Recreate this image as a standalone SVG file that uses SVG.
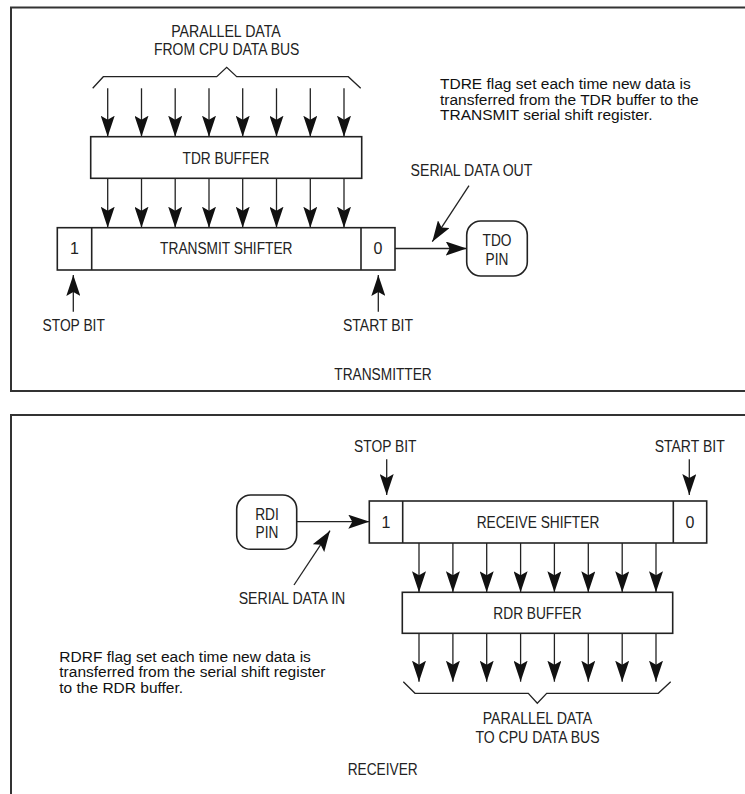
<svg xmlns="http://www.w3.org/2000/svg" width="745" height="794" viewBox="0 0 745 794">
<style>
.frame{fill:none;stroke:#333;stroke-width:2}
.box{fill:#fff;stroke:#222;stroke-width:1.6}
.ln{fill:none;stroke:#222;stroke-width:1.3}
.arr{fill:none;stroke:#222;stroke-width:1.3;marker-end:url(#ah)}
.lbl{font-family:"Liberation Sans Narrow","Liberation Sans",Arial,sans-serif;font-size:16px;fill:#222;text-anchor:middle}
.body{font-family:"Liberation Sans",Arial,sans-serif;font-size:15.5px;fill:#111}
</style>
<defs>
<marker id="ah" viewBox="0 0 21 14" refX="21" refY="7" markerWidth="21" markerHeight="14" markerUnits="userSpaceOnUse" orient="auto">
<path d="M0,0 L21,7 L0,14 L4,7 z" fill="#111"/>
</marker>
</defs>
<rect width="745" height="794" fill="#fff"/>
<g id="frames">
<path class="frame" d="M746,7.5 H11 V391 H746"/>
<path class="frame" d="M746,415 H11 V795"/>
</g>
<g id="connectors">
<path class="ln" d="M92.7,88.3 L103.3,76.7 H216.7 L226.7,67.3 L236.7,76.7 H348.3 L360.7,88.3"/>
<line class="arr" x1="107.7" y1="88.3" x2="107.7" y2="136.7"/>
<line class="arr" x1="141.5" y1="88.3" x2="141.5" y2="136.7"/>
<line class="arr" x1="175.2" y1="88.3" x2="175.2" y2="136.7"/>
<line class="arr" x1="209" y1="88.3" x2="209" y2="136.7"/>
<line class="arr" x1="242.7" y1="88.3" x2="242.7" y2="136.7"/>
<line class="arr" x1="276.5" y1="88.3" x2="276.5" y2="136.7"/>
<line class="arr" x1="310.3" y1="88.3" x2="310.3" y2="136.7"/>
<line class="arr" x1="344" y1="88.3" x2="344" y2="136.7"/>
<line class="arr" x1="107.7" y1="178.3" x2="107.7" y2="227.7"/>
<line class="arr" x1="141.5" y1="178.3" x2="141.5" y2="227.7"/>
<line class="arr" x1="175.2" y1="178.3" x2="175.2" y2="227.7"/>
<line class="arr" x1="209" y1="178.3" x2="209" y2="227.7"/>
<line class="arr" x1="242.7" y1="178.3" x2="242.7" y2="227.7"/>
<line class="arr" x1="276.5" y1="178.3" x2="276.5" y2="227.7"/>
<line class="arr" x1="310.3" y1="178.3" x2="310.3" y2="227.7"/>
<line class="arr" x1="344" y1="178.3" x2="344" y2="227.7"/>
<line class="arr" x1="73.3" y1="311.7" x2="73.3" y2="275"/>
<line class="arr" x1="378.3" y1="311.7" x2="378.3" y2="275"/>
<line class="arr" x1="395" y1="248.5" x2="466.7" y2="248.5"/>
<line class="arr" x1="469" y1="185.7" x2="432.3" y2="241.7"/>
<line class="arr" x1="386.7" y1="459.3" x2="386.7" y2="495"/>
<line class="arr" x1="689.3" y1="459.3" x2="689.3" y2="495"/>
<line class="arr" x1="296.7" y1="521.7" x2="369.3" y2="521.7"/>
<line class="arr" x1="294" y1="585" x2="330" y2="530.7"/>
<line class="arr" x1="419" y1="543" x2="419" y2="592.3"/>
<line class="arr" x1="452.9" y1="543" x2="452.9" y2="592.3"/>
<line class="arr" x1="486.7" y1="543" x2="486.7" y2="592.3"/>
<line class="arr" x1="520.6" y1="543" x2="520.6" y2="592.3"/>
<line class="arr" x1="554.4" y1="543" x2="554.4" y2="592.3"/>
<line class="arr" x1="588.3" y1="543" x2="588.3" y2="592.3"/>
<line class="arr" x1="622.2" y1="543" x2="622.2" y2="592.3"/>
<line class="arr" x1="656" y1="543" x2="656" y2="592.3"/>
<line class="arr" x1="419" y1="633.3" x2="419" y2="681.7"/>
<line class="arr" x1="452.9" y1="633.3" x2="452.9" y2="681.7"/>
<line class="arr" x1="486.7" y1="633.3" x2="486.7" y2="681.7"/>
<line class="arr" x1="520.6" y1="633.3" x2="520.6" y2="681.7"/>
<line class="arr" x1="554.4" y1="633.3" x2="554.4" y2="681.7"/>
<line class="arr" x1="588.3" y1="633.3" x2="588.3" y2="681.7"/>
<line class="arr" x1="622.2" y1="633.3" x2="622.2" y2="681.7"/>
<line class="arr" x1="656" y1="633.3" x2="656" y2="681.7"/>
<path class="ln" d="M403.3,681.7 L415,693.3 H528.3 L537.3,703.3 L546.7,693.3 H658.3 L670.7,681.7"/>
</g>
<g id="tdr-buffer">
<rect class="box" x="90.7" y="136.7" width="271" height="41.6"/>
<text class="lbl" x="226" y="163.5" textLength="86.8" lengthAdjust="spacingAndGlyphs">TDR BUFFER</text>
</g>
<g id="transmit-shifter">
<rect class="box" x="57.3" y="227.7" width="337.7" height="42.3"/>
<line class="box" x1="91.7" y1="227.7" x2="91.7" y2="270"/>
<line class="box" x1="361" y1="227.7" x2="361" y2="270"/>
<text class="lbl" x="74.5" y="254">1</text>
<text class="lbl" x="226.3" y="254" textLength="132.4" lengthAdjust="spacingAndGlyphs">TRANSMIT SHIFTER</text>
<text class="lbl" x="378" y="254">0</text>
</g>
<g id="tdo-pin">
<rect class="box" x="466.7" y="221" width="60.6" height="55" rx="14"/>
<text class="lbl" x="497" y="246" textLength="28.9" lengthAdjust="spacingAndGlyphs">TDO</text>
<text class="lbl" x="497" y="265" textLength="22.8" lengthAdjust="spacingAndGlyphs">PIN</text>
</g>
<g id="tx-labels">
<text class="lbl" x="226" y="37.3" textLength="109.6" lengthAdjust="spacingAndGlyphs">PARALLEL DATA</text>
<text class="lbl" x="226.7" y="55.3" textLength="145.4" lengthAdjust="spacingAndGlyphs">FROM CPU DATA BUS</text>
<text class="lbl" x="471.5" y="176" textLength="121.8" lengthAdjust="spacingAndGlyphs">SERIAL DATA OUT</text>
<text class="lbl" x="73.7" y="330.7" textLength="62.4" lengthAdjust="spacingAndGlyphs">STOP BIT</text>
<text class="lbl" x="378" y="330.7" textLength="70" lengthAdjust="spacingAndGlyphs">START BIT</text>
<text class="lbl" x="383" y="380" textLength="97.4" lengthAdjust="spacingAndGlyphs">TRANSMITTER</text>
<text class="body" x="440" y="89">TDRE flag set each time new data is</text>
<text class="body" x="440" y="104.5">transferred from the TDR buffer to the</text>
<text class="body" x="440" y="120">TRANSMIT serial shift register.</text>
</g>
<g id="rdi-pin">
<rect class="box" x="236.7" y="495" width="60" height="54.3" rx="14"/>
<text class="lbl" x="267" y="520" textLength="23.6" lengthAdjust="spacingAndGlyphs">RDI</text>
<text class="lbl" x="267" y="537.5" textLength="22.8" lengthAdjust="spacingAndGlyphs">PIN</text>
</g>
<g id="receive-shifter">
<rect class="box" x="369.3" y="501" width="337.4" height="42"/>
<line class="box" x1="402.7" y1="501" x2="402.7" y2="543"/>
<line class="box" x1="673.3" y1="501" x2="673.3" y2="543"/>
<text class="lbl" x="386" y="527.8">1</text>
<text class="lbl" x="538" y="527.8" textLength="122.6" lengthAdjust="spacingAndGlyphs">RECEIVE SHIFTER</text>
<text class="lbl" x="690" y="527.8">0</text>
</g>
<g id="rdr-buffer">
<rect class="box" x="402.3" y="592.3" width="270.4" height="41"/>
<text class="lbl" x="537.5" y="618.7" textLength="88.3" lengthAdjust="spacingAndGlyphs">RDR BUFFER</text>
</g>
<g id="rx-labels">
<text class="lbl" x="385.3" y="451.7" textLength="62.4" lengthAdjust="spacingAndGlyphs">STOP BIT</text>
<text class="lbl" x="689.7" y="451.7" textLength="70" lengthAdjust="spacingAndGlyphs">START BIT</text>
<text class="lbl" x="292" y="604" textLength="106.6" lengthAdjust="spacingAndGlyphs">SERIAL DATA IN</text>
<text class="lbl" x="537.5" y="724" textLength="109.6" lengthAdjust="spacingAndGlyphs">PARALLEL DATA</text>
<text class="lbl" x="537.5" y="742.7" textLength="124.1" lengthAdjust="spacingAndGlyphs">TO CPU DATA BUS</text>
<text class="lbl" x="382.7" y="775" textLength="70" lengthAdjust="spacingAndGlyphs">RECEIVER</text>
<text class="body" x="59.3" y="661.7">RDRF flag set each time new data is</text>
<text class="body" x="59.3" y="677.2">transferred from the serial shift register</text>
<text class="body" x="59.3" y="692.7">to the RDR buffer.</text>
</g>
</svg>
